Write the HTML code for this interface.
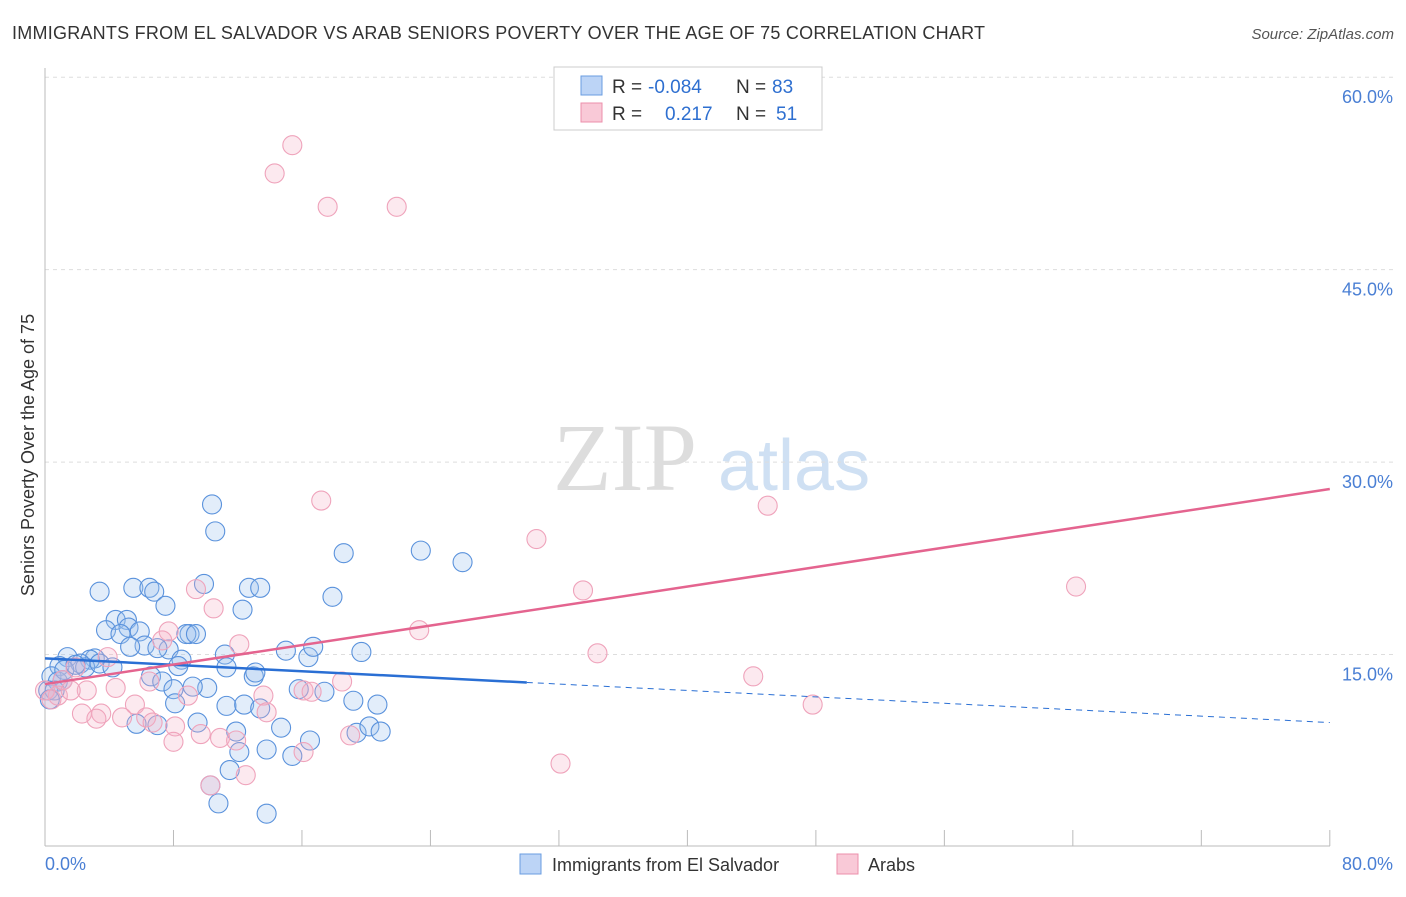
<!DOCTYPE html>
<html><head><meta charset="utf-8"><style>
body{margin:0;background:#fff;font-family:"Liberation Sans",sans-serif}
svg text{font-family:"Liberation Sans",sans-serif}
</style></head><body>
<svg width="1406" height="892">
<text x="12" y="39" font-size="18" fill="#333" textLength="973">IMMIGRANTS FROM EL SALVADOR VS ARAB SENIORS POVERTY OVER THE AGE OF 75 CORRELATION CHART</text>
<text x="1394" y="39" font-size="15" fill="#555" font-style="italic" text-anchor="end">Source: ZipAtlas.com</text>
<text x="553" y="490" font-size="96" fill="#ddd" style="font-family:'Liberation Serif',serif">ZIP</text>
<text x="718" y="490" font-size="72" fill="#cfe0f3">atlas</text>
<g id="grid"></g><g id="axes"></g><g id="pts"></g><g id="trend"></g>
<text transform="translate(34,455) rotate(-90)" font-size="18" fill="#333" text-anchor="middle">Seniors Poverty Over the Age of 75</text>
<text x="45" y="870" font-size="18" fill="#4a7fd4">0.0%</text>
<text x="1393" y="870" font-size="18" fill="#4a7fd4" text-anchor="end">80.0%</text>
<g>
<rect x="554" y="67" width="268" height="63" fill="#fff" stroke="#ccc"/>
<rect x="581" y="76" width="21" height="19" fill="#bcd4f6" stroke="#6a9ce0"/>
<rect x="581" y="103" width="21" height="19" fill="#f9c9d7" stroke="#ec8fab"/>
<text x="612" y="93" font-size="19" fill="#333">R =</text>
<text x="648" y="93" font-size="19" fill="#2e6fd0">-0.084</text>
<text x="736" y="93" font-size="19" fill="#333">N =</text>
<text x="772" y="93" font-size="19" fill="#2e6fd0">83</text>
<text x="612" y="120" font-size="19" fill="#333">R =</text>
<text x="665" y="120" font-size="19" fill="#2e6fd0">0.217</text>
<text x="736" y="120" font-size="19" fill="#333">N =</text>
<text x="776" y="120" font-size="19" fill="#2e6fd0">51</text>
</g>
<g>
<rect x="520" y="854" width="21" height="20" fill="#bcd4f6" stroke="#6a9ce0"/>
<text x="552" y="871" font-size="18" fill="#333">Immigrants from El Salvador</text>
<rect x="837" y="854" width="21" height="20" fill="#f9c9d7" stroke="#ec8fab"/>
<text x="868" y="871" font-size="18" fill="#333">Arabs</text>
</g>
</svg>
<script>
const yTicks=[15,30,45,60];
const blueX=[10.4,10.6,3.4,5.5,6.5,6.8,9.9,12.7,13.4,7.5,12.3,4.4,5.1,5.2,3.8,4.7,5.9,6.2,7.7,9.0,8.8,9.4,7.0,8.5,8.3,11.2,11.3,18.6,23.4,26.0,17.9,15.0,16.4,16.7,19.7,13.0,13.1,6.6,7.3,8.0,10.1,9.2,8.1,11.3,12.4,15.8,17.4,19.2,20.7,13.4,5.7,7.0,9.5,11.9,14.7,12.1,13.8,16.5,19.4,20.2,20.9,15.4,11.5,10.3,10.8,13.8,3.1,2.8,1.4,2.2,0.9,0.4,0.8,0.2,1.2,2.5,3.4,4.2,5.3,1.9,0.6,0.3,1.1];
const blueY=[26.7,24.6,19.9,20.2,20.2,19.9,20.5,20.2,20.2,18.8,18.5,17.7,17.7,17.1,16.9,16.6,16.8,15.7,15.4,16.6,16.6,16.6,15.5,14.6,14.1,15.0,14.0,22.9,23.1,22.2,19.5,15.3,14.8,15.6,15.2,13.3,13.6,13.3,12.9,12.3,12.4,12.5,11.2,11.0,11.1,12.3,12.1,11.4,11.1,10.8,9.6,9.5,9.7,9.0,9.3,7.4,7.6,8.3,8.9,9.4,9.0,7.1,6.0,4.8,3.4,2.6,14.7,14.6,14.8,14.3,14.1,13.3,12.9,12.2,13.8,14.0,14.3,14.0,15.6,14.2,12.2,11.5,13.0];
const pinkX=[15.4,14.3,17.6,21.9,17.2,30.6,45.0,33.5,64.2,23.3,34.4,44.1,47.8,32.1,9.4,10.5,7.7,7.3,12.1,3.9,4.4,2.6,5.6,6.3,6.7,2.3,3.5,3.2,4.8,8.9,8.1,9.7,10.9,11.9,13.6,13.8,16.1,16.6,18.5,19.0,16.1,12.5,10.3,8.0,6.5,0.8,1.1,1.9,0.0,0.4,1.6];
const pinkY=[54.7,52.5,49.9,49.9,27.0,24.0,26.6,20.0,20.3,16.9,15.1,13.3,11.1,6.5,20.1,18.6,16.8,16.1,15.8,14.8,12.4,12.2,11.1,10.1,9.7,10.4,10.4,10.0,10.1,11.8,9.4,8.8,8.5,8.3,11.8,10.5,12.2,12.1,12.9,8.7,7.4,5.6,4.8,8.2,12.9,11.8,13.0,14.0,12.2,11.5,12.2];
const blueTrend=[14.7,-0.0625];
const pinkTrend=[12.7,0.19];
const X=v=>45+v*16.06, Y=v=>847-v*12.83;
const NS='http://www.w3.org/2000/svg';
function mk(t,a,p){const e=document.createElementNS(NS,t);for(const k in a)e.setAttribute(k,a[k]);document.getElementById(p).appendChild(e);return e;}
yTicks.forEach(t=>{
 const l=mk('line',{x1:45,x2:1393,y1:Y(t),y2:Y(t),stroke:'#ddd','stroke-dasharray':'4,4'},'grid');
 
 
 const tx=mk('text',{x:1393,y:Y(t)+26,'font-size':18,fill:'#4a7fd4','text-anchor':'end'},'grid');
 tx.textContent=t.toFixed(1)+'%';
 
 
});
mk('line',{x1:45,x2:45,y1:68,y2:846,stroke:'#bbb'},'axes');
mk('line',{x1:45,x2:1330,y1:846,y2:846,stroke:'#bbb'},'axes');
for(let i=0;i<=10;i++){const t=mk('line',{x1:X(i*8),x2:X(i*8),y1:830,y2:846,stroke:'#bbb'},'axes');
 
 }
blueX.forEach((x,i)=>{const c=mk('circle',{cx:X(x),cy:Y(blueY[i]),r:9.5,fill:'rgba(160,195,240,0.3)',stroke:'#5a92dc','stroke-width':1.1},'pts');
 
 });
pinkX.forEach((x,i)=>{const c=mk('circle',{cx:X(x),cy:Y(pinkY[i]),r:9.5,fill:'rgba(245,175,198,0.28)',stroke:'#efa3bb','stroke-width':1.1},'pts');
 
 });
const bl=mk('line',{x1:X(0),y1:Y(blueTrend[0]),x2:X(30),y2:Y(blueTrend[0]+blueTrend[1]*30),stroke:'#2a6fd4','stroke-width':2.5},'trend');


const bd=mk('line',{x1:X(30),y1:Y(blueTrend[0]+blueTrend[1]*30),x2:X(80),y2:Y(blueTrend[0]+blueTrend[1]*80),stroke:'#2a6fd4','stroke-width':1,'stroke-dasharray':'6,5'},'trend');


const pl=mk('line',{x1:X(0),y1:Y(pinkTrend[0]),x2:X(80),y2:Y(pinkTrend[0]+pinkTrend[1]*80),stroke:'#e4648f','stroke-width':2.5},'trend');


</script>
</body></html>
